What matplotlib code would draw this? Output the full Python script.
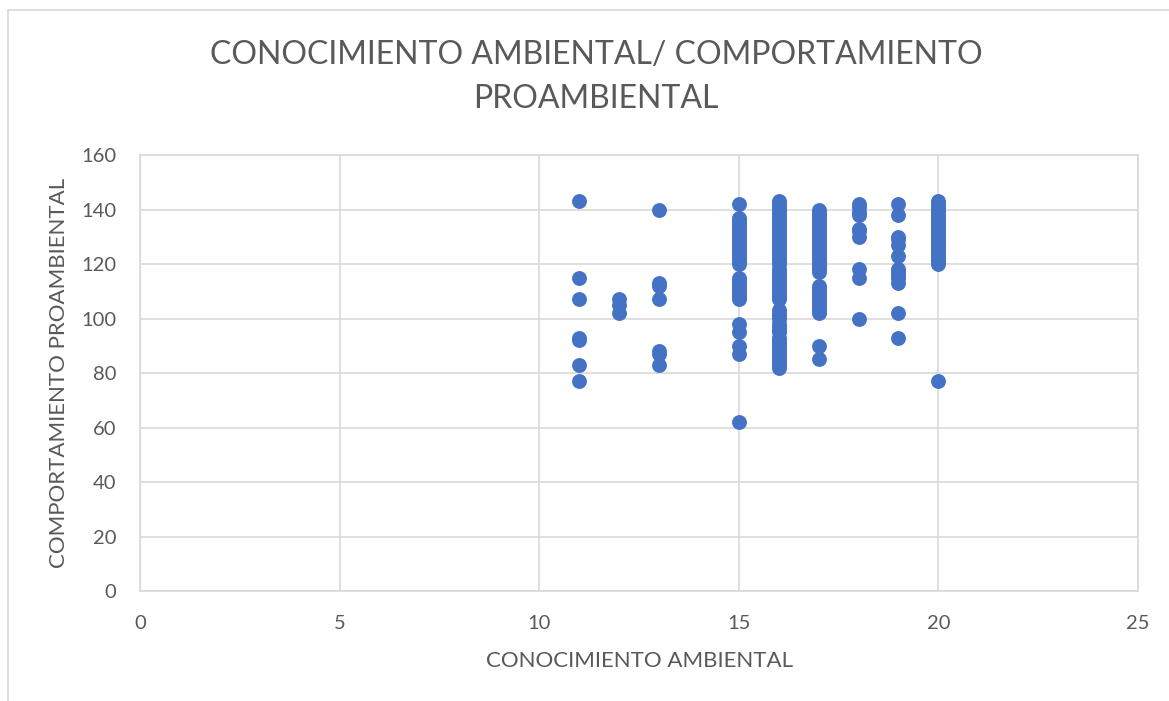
import matplotlib.pyplot as plt
from matplotlib.lines import Line2D

plt.rcParams["font.family"] = ["Lato", "DejaVu Sans"]

TITLE = "CONOCIMIENTO AMBIENTAL/ COMPORTAMIENTO\nPROAMBIENTAL"
X_LABEL = "CONOCIMIENTO AMBIENTAL"
Y_LABEL = "COMPORTAMIENTO PROAMBIENTAL"

X_TICKS = [0, 5, 10, 15, 20, 25]
Y_TICKS = [0, 20, 40, 60, 80, 100, 120, 140, 160]

# y values, one list per knowledge score
scores_11 = [143, 115, 107, 93, 92, 83, 77]
scores_12 = [107, 105, 102]
scores_13 = [140, 113, 112, 107, 88, 87, 83]
scores_15 = [142, 137, 136, 135, 134, 133, 132, 131, 130, 129, 128, 127,
             126, 125, 124, 123, 122, 121, 120, 115, 114, 113, 112, 111,
             110, 109, 108, 107, 98, 95, 90, 87, 62]
scores_16 = [143, 142, 141, 140, 139, 138, 137, 136, 135, 134, 133, 132,
             131, 130, 129, 128, 127, 126, 125, 124, 123, 122, 121, 120,
             118, 117, 116, 115, 114, 113, 112, 111, 110, 109, 108, 107,
             103, 102, 101, 100, 98, 97, 96, 95, 93, 92, 91, 90,
             89, 88, 87, 86, 85, 84, 83, 82]
scores_17 = [140, 139, 138, 137, 136, 135, 134, 133, 132, 131, 130, 129,
             128, 127, 126, 125, 124, 123, 122, 121, 120, 119, 118, 117,
             112, 111, 110, 109, 108, 107, 106, 105, 104, 103, 102, 90, 85]
scores_18 = [142, 141, 139, 138, 133, 132, 130, 118, 115, 100]
scores_19 = [142, 138, 130, 129, 127, 123, 118, 117, 116, 115, 113, 102, 93]
scores_20 = [143, 142, 141, 140, 139, 138, 137, 136, 135, 134, 133, 132,
             131, 130, 129, 128, 127, 126, 125, 124, 123, 122, 121, 120, 77]

groups = {
    11: scores_11, 12: scores_12, 13: scores_13, 15: scores_15,
    16: scores_16, 17: scores_17, 18: scores_18, 19: scores_19, 20: scores_20,
}

TEXT = "#595959"
GRID = "#D9D9D9"
BLUE = "#4472C4"

xs, ys = [], []
for k, vals in groups.items():
    xs += [k] * len(vals)
    ys += vals

fig = plt.figure(figsize=(11.69, 7.01), dpi=100)
ax = fig.add_axes([140 / 1169, 110 / 701, 998 / 1169, 436 / 701])

ax.scatter(xs, ys, s=115, color=BLUE, zorder=3, linewidths=0)

ax.set_xlim(0, 25)
ax.set_ylim(0, 160)
ax.set_xticks(X_TICKS)
ax.set_yticks(Y_TICKS)
ax.grid(True, color=GRID, linewidth=1.2)
ax.set_axisbelow(True)
for side in ["top", "right", "left", "bottom"]:
    ax.spines[side].set_color(GRID)
    ax.spines[side].set_linewidth(1.2)
ax.tick_params(length=0, labelsize=14.5, labelcolor=TEXT)
ax.tick_params(axis="x", pad=17)
ax.tick_params(axis="y", pad=17)

ax.set_xlabel(X_LABEL, fontsize=16, color=TEXT, labelpad=14)
ax.set_ylabel(Y_LABEL, fontsize=16, color=TEXT, labelpad=9)
fig.text(596 / 1169, 1 - 77 / 701, TITLE, ha="center", va="center",
         fontsize=23, color=TEXT, linespacing=1.55)

# chart frame
fig.add_artist(Line2D([8 / 1169, 1], [1 - 10 / 701] * 2, color=GRID, lw=1.2))
fig.add_artist(Line2D([8 / 1169] * 2, [0, 1 - 10 / 701], color=GRID, lw=1.2))

fig.savefig("out.png", dpi=100, facecolor="white")
